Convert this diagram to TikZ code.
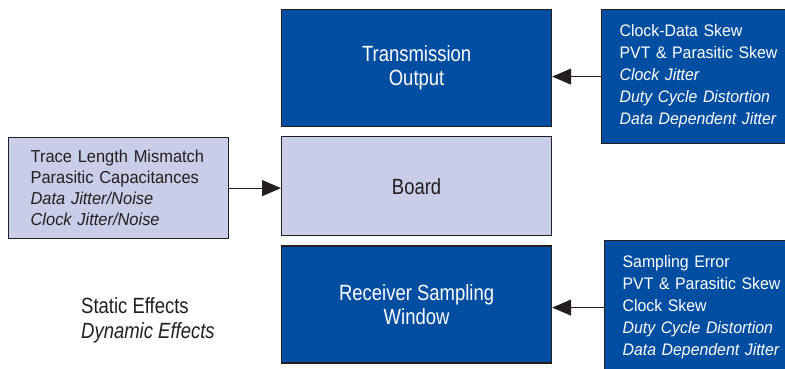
\documentclass[tikz,border=0pt]{standalone}
\usepackage{fontspec}
\setmainfont{Liberation Sans}[FakeStretch=0.95]
\newfontfamily\condfont{Liberation Sans}[FakeStretch=0.84]
\usepackage{xcolor}
\usepackage{tikz}
\usetikzlibrary{arrows.meta, positioning}

\definecolor{darkblue}{HTML}{004EA2}
\definecolor{lightblue}{HTML}{C9CDE8}
\definecolor{inkgray}{HTML}{231F20}

\begin{document}
\begin{tikzpicture}[x=1pt, y=-1pt,
  box/.style={draw=inkgray, line width=1.2pt, minimum width=270pt, align=center,
              font=\condfont\fontsize{22}{24}\selectfont, fill=darkblue, text=white, inner sep=0pt},
  factors/.style={draw=inkgray, line width=1.2pt, align=left, inner xsep=18pt, text width=170pt,
              minimum height=134pt, font=\fontsize{16.7}{22}\selectfont, fill=darkblue, text=white},
  arr/.style={-{Triangle[length=19pt, width=16pt]}, line width=1.2pt, inkgray},
  node distance=9pt
]
  \useasboundingbox (0,0) rectangle (785,369);
  \clip (0,0) rectangle (785,369);

  \node[box, minimum height=117pt, anchor=north west] (tx) at (281,9) {Transmission\\Output};
  \node[box, minimum height=99pt, fill=lightblue, text=inkgray, below=of tx] (board) {Board};
  \node[box, minimum height=117pt, below=of board] (rx) {Receiver Sampling\\Window};

  \node[factors, anchor=north west] (tjit) at (601,9)
    {Clock-Data Skew\\PVT \& Parasitic Skew\\\textit{Clock Jitter}\\\textit{Duty Cycle Distortion}\\\textit{Data Dependent Jitter}};
  \node[factors, anchor=north west] (rjit) at (604,240)
    {Sampling Error\\PVT \& Parasitic Skew\\Clock Skew\\\textit{Duty Cycle Distortion}\\\textit{Data Dependent Jitter}};
  \node[factors, anchor=north west, fill=lightblue, text=inkgray, inner xsep=22pt, text width=176pt,
        minimum height=101pt, font=\fontsize{17.3}{21}\selectfont] (trace) at (8,137)
    {\mbox{Trace Length Mismatch}\\Parasitic Capacitances\\\textit{Data Jitter/Noise}\\\textit{Clock Jitter/Noise}};

  \node[anchor=west, align=left, inner sep=0pt, font=\condfont\fontsize{22}{25}\selectfont, text=inkgray] (legend) at (81,320)
    {Static Effects\\\textit{Dynamic Effects}};

  \draw[arr] (tjit.west) -- (tjit.west -| tx.east);
  \draw[arr] (rjit.west) -- (rjit.west -| rx.east);
  \draw[arr] (trace.east) -- (trace.east -| board.west);
\end{tikzpicture}
\end{document}
